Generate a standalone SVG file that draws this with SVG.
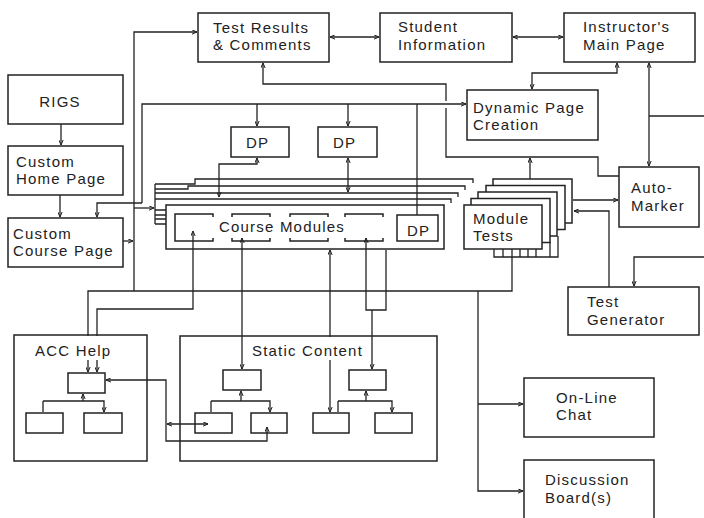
<svg xmlns="http://www.w3.org/2000/svg" width="704" height="518" viewBox="0 0 704 518">
  <defs>
    <marker id="arr" viewBox="0 0 6 6" refX="6" refY="3" markerWidth="5" markerHeight="5" markerUnits="userSpaceOnUse" orient="auto-start-reverse">
      <path d="M0,0.4 L6,3 L0,5.6" fill="none" stroke="#222" stroke-width="1.2"/>
    </marker>
    <style>
      .box { fill: #fff; stroke: #222; stroke-width: 1.5; }
      .open { fill: none; stroke: #222; stroke-width: 1.5; }
      .ln { fill: none; stroke: #222; stroke-width: 1.3; }
      .a { marker-end: url(#arr); }
      .aa { marker-start: url(#arr); marker-end: url(#arr); }
      .as { marker-start: url(#arr); }
      .t { font-family: "Liberation Sans", Arial, sans-serif; font-size: 15px; letter-spacing: 1.2px; fill: #222; }
      .bg { fill: #fff; stroke: none; }
    </style>
  </defs>
  <rect width="704" height="518" fill="#fff"/>

  <!-- course module stack -->
  <g id="course-modules">
    <path class="ln" d="M155,184 H195 V179 H473 V183"/>
    <path class="ln" d="M155,189 H188 V186 H465 V190"/>
    <path class="ln" d="M155,193 H180 V193 H458 V197"/>
    <path class="ln" d="M155,199 H173 V199 H451 V203"/>
    <path class="ln" d="M155,184 V224 M155,210 H166 M155,215 H166 M155,219 H166 M155,224 H166"/>
    <rect class="open" x="166" y="205" width="278" height="44"/>
    <rect class="open" x="175" y="214" width="38" height="27"/>
    <rect class="open" x="232" y="214" width="38" height="27"/>
    <rect class="open" x="290" y="214" width="38" height="27"/>
    <rect class="open" x="345" y="214" width="38" height="27"/>
    <rect class="bg" x="211" y="217" width="176" height="21"/>
    <text class="t" x="219" y="232">Course Modules</text>
  </g>

  <g id="connectors">
    <!-- left bus -->
    <path class="ln a" d="M123,241 H133"/>
    <path class="ln a" d="M134,291 V32 H197"/>
    <path class="ln a" d="M134,208 H154"/>
    <path class="ln as" d="M88,372 V291 H512 V257"/>
    <path class="ln a" d="M478,291 V491 H523"/>
    <path class="ln a" d="M478,404 H523"/>
    <path class="ln aa" d="M97,372 V309 H193 V231"/>
    <path class="ln aa" d="M242,238 V369"/>
    <path class="ln aa" d="M330,250 V412"/>
    <path class="ln as" d="M366,238 V310 H386 V250"/>
    <path class="ln a" d="M372,310 V369"/>
    <!-- dynamic page distribution -->
    <path class="ln" d="M417,215 V104"/>
    <path class="ln a" d="M142,203 V104 H466"/>
    <path class="ln a" d="M142,203 H97 V217"/>
    <path class="ln a" d="M257,104 V126"/>
    <path class="ln a" d="M348,104 V126"/>
    <path class="ln aa" d="M257,158 V164 H219 V197"/>
    <path class="ln aa" d="M348,158 V192"/>
    <!-- top row -->
    <path class="ln aa" d="M330,37 H379"/>
    <path class="ln aa" d="M513,37 H563"/>
    <path class="ln aa" d="M617,63 V73 H532 V89"/>
    <path class="ln aa" d="M649,63 V166"/>
    <path class="ln" d="M649,116 H704"/>
    <path class="ln" d="M619,176 H598 V157 H446 V108"/>
    <path class="ln a" d="M446,101 V84 H263 V63"/>
    <path class="ln a" d="M530,179 V158"/>
    <path class="ln a" d="M573,200 H618"/>
    <path class="ln a" d="M609,287 V211 H574"/>
    <path class="ln a" d="M704,257 H634 V286"/>
    <path class="ln a" d="M61,124 V145"/>
    <path class="ln a" d="M60,195 V217"/>
    <!-- help and static content links -->
    <path class="ln aa" d="M106,380 H166 V441 H267 V427"/>
    <path class="ln aa" d="M167,424 H208"/>
    <!-- trees -->
    <path class="ln as" d="M83,394 V401"/>
    <path class="ln a" d="M43,401 V412 M43,401 H104 V412"/>
    <path class="ln as" d="M241,391 V401"/>
    <path class="ln a" d="M211,401 V412 M211,401 H270 V412"/>
    <path class="ln as" d="M366,391 V401"/>
    <path class="ln a" d="M338,401 V412 M338,401 H392 V412"/>
  </g>

  <g id="test-results"><rect class="box" x="198" y="13" width="131" height="49"/>
    <text class="t" x="213" y="33">Test Results</text><text class="t" x="213" y="50">&amp; Comments</text></g>
  <g id="student-information"><rect class="box" x="380" y="13" width="132" height="49"/>
    <text class="t" x="398" y="32">Student</text><text class="t" x="398" y="50">Information</text></g>
  <g id="instructor-main-page"><rect class="box" x="564" y="13" width="131" height="49"/>
    <text class="t" x="583" y="32">Instructor's</text><text class="t" x="583" y="50">Main Page</text></g>
  <g id="rigs"><rect class="box" x="8" y="75" width="115" height="49"/>
    <text class="t" x="60" y="107" text-anchor="middle">RIGS</text></g>
  <g id="custom-home-page"><rect class="box" x="8" y="146" width="115" height="49"/>
    <text class="t" x="16" y="167">Custom</text><text class="t" x="16" y="184">Home Page</text></g>
  <g id="custom-course-page"><rect class="box" x="8" y="218" width="115" height="49"/>
    <text class="t" x="13" y="239">Custom</text><text class="t" x="13" y="256">Course Page</text></g>
  <g id="dp1"><rect class="box" x="231" y="127" width="58" height="30"/>
    <text class="t" x="246" y="148">DP</text></g>
  <g id="dp2"><rect class="box" x="318" y="127" width="59" height="30"/>
    <text class="t" x="333" y="148">DP</text></g>
  <g id="dp3"><rect class="box" x="397" y="215" width="41" height="26"/>
    <text class="t" x="407" y="236">DP</text></g>
  <g id="dynamic-page-creation"><rect class="box" x="467" y="90" width="131" height="50"/>
    <text class="t" x="473" y="113">Dynamic Page</text><text class="t" x="473" y="130">Creation</text></g>

  <g id="module-tests">
    <rect class="box" x="493" y="179" width="79" height="44"/>
    <rect class="box" x="486" y="185.5" width="79" height="44"/>
    <rect class="box" x="478" y="192" width="79" height="44"/>
    <rect class="box" x="471" y="198.5" width="79" height="44"/>
    <rect class="box" x="464" y="205" width="78" height="44"/>
    <path class="ln" d="M494,249 V257 H558 V236 M550,242 V257 M503,249 V257 M512,249 V257 M520,249 V257 M528,249 V257 M536,249 V257"/>
    <text class="t" x="473" y="224">Module</text><text class="t" x="473" y="241">Tests</text>
  </g>
  <g id="auto-marker"><rect class="box" x="619" y="167" width="80" height="60"/>
    <text class="t" x="631" y="193">Auto-</text><text class="t" x="631" y="211">Marker</text></g>
  <g id="test-generator"><rect class="box" x="568" y="287" width="131" height="48"/>
    <text class="t" x="587" y="307">Test</text><text class="t" x="587" y="325">Generator</text></g>
  <g id="online-chat"><rect class="box" x="524" y="378" width="130" height="59"/>
    <text class="t" x="556" y="403">On-Line</text><text class="t" x="556" y="420">Chat</text></g>
  <g id="discussion-boards"><rect class="box" x="524" y="460" width="130" height="70"/>
    <text class="t" x="545" y="485">Discussion</text><text class="t" x="545" y="503">Board(s)</text></g>

  <g id="acc-help">
    <rect class="open" x="14" y="335" width="133" height="126"/>
    <rect class="bg" x="32" y="336" width="85" height="24"/>
    <text class="t" x="35" y="356">ACC Help</text>
    <rect class="open" x="68" y="373" width="37" height="20"/>
    <rect class="open" x="26" y="413" width="37" height="20"/>
    <rect class="open" x="84" y="413" width="38" height="20"/>
  </g>
  <g id="static-content">
    <rect class="open" x="180" y="336" width="257" height="125"/>
    <rect class="bg" x="249" y="337" width="115" height="23"/>
    <text class="t" x="252" y="356">Static Content</text>
    <rect class="open" x="223" y="370" width="38" height="20"/>
    <rect class="open" x="195" y="413" width="37" height="20"/>
    <rect class="open" x="251" y="413" width="36" height="20"/>
    <rect class="open" x="349" y="370" width="37" height="20"/>
    <rect class="open" x="313" y="413" width="36" height="20"/>
    <rect class="open" x="375" y="413" width="37" height="20"/>
  </g>
</svg>
